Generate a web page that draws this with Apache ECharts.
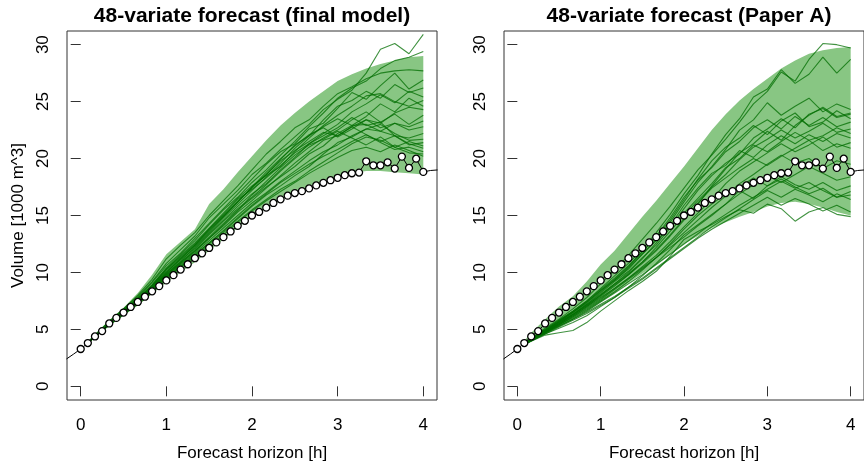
<!DOCTYPE html>
<html><head><meta charset="utf-8">
<script src="https://cdn.jsdelivr.net/npm/echarts@6/dist/echarts.min.js"></script>
<style>html,body{margin:0;padding:0;background:#fff}#c{width:864px;height:467px}</style>
</head><body><div id="c"></div>
<script>
// ---------- data ----------
const panelTitles = ['48-variate forecast (final model)', '48-variate forecast (Paper A)'];
const xTickValues = [0, 1, 2, 3, 4];
const yTickValues = [0, 5, 10, 15, 20, 25, 30];
const xAxisTitle = 'Forecast horizon [h]';
const yAxisTitle = 'Volume [1000 m^3]';

// forecast horizons (minutes) of scenario lines and bands
const horizonMin = [5,10,20,30,40,50,60,70,80,90,100,110,120,130,140,150,160,170,180,190,200,210,220,230,240];

// observed volumes (minutes)
const obsMin = [-10,-5,0,5,10,15,20,25,30,35,40,45,50,55,60,65,70,75,80,85,90,95,100,105,110,115,120,125,130,135,140,145,150,155,160,165,170,175,180,185,190,195,200,205,210,215,220,225,230,235,240,245,250];
const obsValues = [2.40,2.83,3.28,3.80,4.38,4.85,5.52,6.01,6.48,6.97,7.41,7.87,8.34,8.80,9.30,9.76,10.25,10.72,11.25,11.68,12.15,12.64,13.10,13.60,14.09,14.53,15.00,15.31,15.69,16.10,16.42,16.74,16.97,17.14,17.38,17.64,17.87,18.10,18.31,18.54,18.71,18.77,19.76,19.41,19.41,19.67,19.12,20.17,19.18,19.99,18.83,18.95,19.00];

// prediction bands
const finalLower = [3.7,4.3,5.3,6.2,7.1,8.1,9.1,10.0,10.9,11.9,12.9,13.9,14.9,15.6,16.3,17.0,17.6,18.0,18.4,18.7,18.9,18.9,18.8,18.7,18.6];
const finalUpper = [3.95,4.6,5.8,6.9,8.2,9.8,11.6,12.7,13.8,16.0,17.3,18.8,20.2,21.6,22.9,24.0,25.0,25.9,26.8,27.4,27.9,28.3,28.6,28.9,29.0];
const paperLower = [3.7,4.1,4.6,5.2,5.9,6.6,7.4,8.2,9.1,9.9,10.7,11.6,12.5,13.2,13.9,14.4,14.9,15.3,15.8,16.1,16.2,16.0,15.7,15.3,15.0];
const paperUpper = [4.0,4.7,5.9,7.0,7.9,9.2,10.7,11.9,13.4,14.9,16.3,17.8,19.3,20.9,22.5,23.9,25.1,26.1,27.0,27.9,28.6,29.2,29.5,29.7,29.8];

// scenario paths, final model
const final1  = [3.85,4.5,5.7,6.8,7.9,9.2,10.8,12.0,13.2,14.8,16.0,17.2,18.6,19.6,20.8,21.9,23.0,24.3,25.2,26.0,27.5,29.6,30.1,29.2,30.9];
const final2  = [3.8,4.45,5.6,6.6,7.7,8.9,10.4,11.6,12.8,14.2,15.5,16.6,17.9,19.0,20.3,21.5,22.8,24.0,25.3,26.2,26.8,27.9,28.6,28.9,29.4];
const final3  = [3.85,4.5,5.7,6.8,8.0,9.4,11.2,12.4,13.5,15.0,16.3,17.6,19.0,20.4,21.5,22.7,23.4,24.6,25.7,26.3,27.0,27.5,27.7,27.8,27.7];
const final4  = [3.8,4.4,5.6,6.7,7.8,9.1,10.6,11.7,13.0,14.3,15.6,16.9,18.2,19.5,20.6,21.3,22.6,23.1,24.4,25.8,25.2,26.4,27.5,26.1,26.9];
const final5  = [3.8,4.45,5.6,6.7,7.7,8.8,10.2,11.3,12.4,13.8,15.0,16.2,17.4,18.6,19.9,21.2,22.0,23.4,24.6,25.1,25.9,25.3,26.5,25.8,26.2];
const final6  = [3.8,4.4,5.5,6.5,7.6,8.7,10.0,11.1,12.1,13.4,14.6,15.8,16.9,17.8,19.0,20.1,21.3,22.2,23.0,24.1,24.8,25.6,24.9,25.9,25.4];
const final7  = [3.8,4.4,5.5,6.6,7.6,8.8,10.3,11.5,12.6,13.9,15.2,16.5,17.6,18.5,19.3,20.6,21.8,22.9,23.8,24.6,25.5,25.7,25.0,24.6,25.1];
const final8  = [3.8,4.4,5.5,6.5,7.5,8.6,9.9,10.9,11.9,13.1,14.3,15.5,16.5,17.5,18.4,19.3,20.4,21.1,22.2,22.9,23.7,24.8,24.1,25.3,24.6];
const final9  = [3.8,4.4,5.5,6.5,7.5,8.6,9.8,10.8,11.8,13.0,14.1,15.3,16.3,17.4,18.5,19.6,20.6,21.6,22.0,22.8,23.4,23.1,24.0,24.5,24.3];
const final10 = [3.8,4.4,5.6,6.6,7.7,8.9,10.3,11.4,12.5,13.8,15.1,16.4,17.3,18.3,19.4,20.5,21.3,22.0,22.7,23.6,22.9,23.2,23.9,23.0,23.8];
const final11 = [3.8,4.4,5.5,6.4,7.4,8.5,9.7,10.7,11.7,12.8,13.9,15.0,16.1,17.0,18.0,18.9,19.8,20.6,21.2,22.0,22.6,22.4,23.1,22.8,23.3];
const final12 = [3.8,4.4,5.5,6.5,7.5,8.6,9.9,11.0,12.2,13.5,14.8,16.0,17.2,18.4,19.6,20.9,22.0,22.8,23.5,22.9,23.0,22.4,22.0,21.8,22.2];
const final13 = [3.8,4.35,5.4,6.4,7.3,8.4,9.6,10.6,11.6,12.6,13.6,14.7,15.8,16.8,17.6,18.5,19.3,20.4,21.4,21.9,22.6,23.0,22.2,21.6,21.7];
const final14 = [3.8,4.4,5.5,6.5,7.5,8.7,10.0,11.2,12.4,13.7,14.9,16.2,17.5,18.6,19.8,20.7,21.5,22.3,22.0,22.8,22.1,21.5,22.0,21.2,21.4];
const final15 = [3.8,4.35,5.4,6.3,7.3,8.3,9.5,10.5,11.4,12.5,13.5,14.5,15.5,16.4,17.3,18.0,18.9,19.7,20.5,21.3,21.9,21.6,21.0,21.5,21.1];
const final16 = [3.8,4.4,5.5,6.5,7.5,8.6,9.8,10.9,12.0,13.3,14.5,15.6,16.6,17.7,18.9,20.0,21.0,21.8,22.5,23.4,24.1,23.2,22.0,21.3,20.9];
const final17 = [3.8,4.35,5.4,6.4,7.3,8.4,9.6,10.5,11.5,12.6,13.7,14.8,15.9,16.9,17.9,18.7,19.5,20.2,20.8,21.5,22.1,21.4,20.8,21.0,20.6];
const final18 = [3.8,4.4,5.5,6.5,7.4,8.5,9.7,10.8,11.9,13.0,14.2,15.4,16.8,18.0,19.2,20.3,21.2,21.7,22.4,21.8,21.2,21.9,21.0,20.5,20.4];
const final19 = [3.75,4.35,5.4,6.3,7.2,8.2,9.4,10.4,11.3,12.3,13.3,14.4,15.4,16.3,17.1,17.9,18.7,19.4,20.1,20.7,21.0,20.6,21.2,20.7,20.2];
const final20 = [3.8,4.4,5.6,6.6,7.6,8.8,10.1,11.2,12.3,13.6,14.9,16.2,17.5,18.8,20.0,21.1,22.1,22.7,21.9,22.6,23.4,22.7,23.1,22.5,22.8];

// scenario paths, Paper A
const paper1  = [3.8,4.2,5.1,5.9,6.8,7.8,9.0,10.2,11.5,12.9,14.3,15.8,17.4,19.0,20.3,21.7,23.2,24.8,25.9,27.6,26.8,28.7,30.1,30.0,29.7];
const paper2  = [3.75,4.15,5.0,5.8,6.6,7.5,8.6,9.7,10.8,12.0,13.5,15.1,16.9,18.5,20.4,22.1,23.5,25.4,26.1,27.8,26.6,27.4,28.9,27.5,28.7];
const paper3  = [3.75,4.1,4.9,5.7,6.5,7.4,8.4,9.3,10.3,11.6,12.9,14.4,16.2,17.9,19.3,20.8,22.5,23.4,24.9,23.8,24.6,25.3,24.1,24.8,24.3];
const paper4  = [3.7,4.1,4.8,5.5,6.3,7.2,8.2,9.2,10.1,11.3,12.4,13.9,15.6,17.2,18.5,19.6,20.4,21.8,22.6,23.5,22.7,23.9,24.4,23.6,23.9];
const paper5  = [3.75,4.15,5.0,5.8,6.6,7.5,8.5,9.5,10.6,11.8,13.1,14.6,16.4,18.2,19.8,21.0,21.8,22.9,22.1,23.3,24.0,22.8,23.2,24.2,23.5];
const paper6  = [3.7,4.1,4.9,5.6,6.4,7.2,8.1,9.0,9.9,10.9,12.0,13.3,14.7,16.0,17.6,19.1,20.5,21.3,22.4,21.6,22.9,23.8,24.5,23.7,24.0];
const paper7  = [3.7,4.05,4.8,5.5,6.2,7.0,7.9,8.8,9.8,10.9,12.2,13.6,15.0,16.3,17.5,18.6,19.9,21.0,21.7,22.5,21.8,22.4,23.1,22.3,22.6];
const paper8  = [3.75,4.1,4.9,5.7,6.5,7.3,8.3,9.3,10.4,11.6,12.8,14.0,15.2,16.5,17.8,19.2,20.0,21.2,20.6,21.5,22.3,21.6,22.0,22.7,22.2];
const paper9  = [3.7,4.05,4.8,5.5,6.2,7.0,7.8,8.6,9.5,10.5,11.5,12.7,14.0,15.2,16.4,17.8,18.9,19.7,20.5,21.3,20.6,21.2,21.9,21.0,21.4];
const paper10 = [3.7,4.1,4.85,5.6,6.3,7.1,8.0,8.9,9.8,10.8,11.9,13.2,14.6,16.1,17.4,18.3,19.2,20.0,19.4,20.2,20.9,21.6,20.7,21.3,20.9];
const paper11 = [3.7,4.0,4.7,5.4,6.0,6.7,7.5,8.3,9.2,10.2,11.3,12.4,13.5,14.6,15.7,16.7,17.8,18.6,19.5,20.3,19.6,20.0,19.1,19.8,19.5];
const paper12 = [3.7,4.05,4.75,5.4,6.1,6.9,7.7,8.6,9.5,10.4,11.3,12.2,13.1,14.1,15.0,16.0,16.9,17.7,18.5,17.9,18.6,19.3,18.7,18.1,18.4];
const paper13 = [3.7,4.0,4.7,5.3,5.9,6.6,7.4,8.2,9.0,9.8,10.7,11.6,12.5,13.4,14.3,15.1,15.9,16.6,17.3,18.0,17.4,17.9,17.2,16.6,17.1];
const paper14 = [3.7,4.0,4.65,5.3,5.9,6.5,7.2,7.9,8.7,9.5,10.4,11.3,12.2,13.1,14.0,14.8,15.6,16.4,17.2,16.6,17.3,16.8,16.2,16.9,16.4];
const paper15 = [3.7,4.0,4.6,5.2,5.8,6.4,7.1,7.8,8.6,9.4,10.3,11.2,12.1,13.0,13.8,14.5,15.2,15.9,16.6,15.9,16.5,16.0,15.4,15.9,15.3];
const paper16 = [3.65,3.95,4.5,4.7,4.9,5.6,6.6,7.5,8.4,9.2,10.1,11.4,12.9,13.6,14.2,14.9,15.5,15.2,16.0,15.6,14.5,15.3,15.7,15.1,14.9];
const paper17 = [3.7,4.0,4.6,5.1,5.6,6.2,7.0,7.8,8.7,9.7,10.8,12.0,13.3,14.2,15.1,16.0,17.2,16.5,17.6,18.4,17.7,17.3,17.9,17.2,17.6];
const paper18 = [3.75,4.1,4.9,5.7,6.5,7.4,8.4,9.4,10.5,11.8,13.2,14.8,16.6,18.1,19.2,20.6,21.5,22.7,23.4,22.6,23.7,22.9,23.6,22.8,23.2];
const paper19 = [3.7,4.1,4.8,5.6,6.3,7.1,8.0,9.0,10.0,11.2,12.6,14.1,15.9,17.4,18.7,19.4,20.7,20.1,21.2,22.0,21.3,22.1,21.5,22.2,21.8];
const paper20 = [3.7,4.05,4.75,5.4,6.1,6.8,7.6,8.5,9.4,10.3,11.3,12.5,13.8,15.0,16.0,16.9,17.5,18.3,17.6,18.2,17.5,16.9,17.4,16.6,16.8];

const finalPaths = [final1,final2,final3,final4,final5,final6,final7,final8,final9,final10,final11,final12,final13,final14,final15,final16,final17,final18,final19,final20];
const paperPaths = [paper1,paper2,paper3,paper4,paper5,paper6,paper7,paper8,paper9,paper10,paper11,paper12,paper13,paper14,paper15,paper16,paper17,paper18,paper19,paper20];

// ---------- chart ----------
const FONT = '"Liberation Sans", Arial, Helvetica, sans-serif';
const BAND = '#88c683';
const LINE = 'rgba(0,110,0,0.75)';
const chart = echarts.init(document.getElementById('c'));

const grids = [
  {left: 67, top: 31, width: 370, height: 372},
  {left: 504, top: 31, width: 370, height: 372}
].map(g => Object.assign(g, {show: true, borderColor: '#333', borderWidth: 1, backgroundColor: 'transparent'}));

function xAxisFor(gi) {
  return {
    type: 'value', gridIndex: gi, min: -0.16, max: 4.16,
    splitLine: {show: false}, axisLine: {show: false},
    axisTick: {show: true, inside: false, length: 10, customValues: xTickValues, lineStyle: {color: '#333'}},
    axisLabel: {customValues: xTickValues, margin: 17, fontSize: 17, color: '#000', fontFamily: FONT},
    name: xAxisTitle, nameLocation: 'middle', nameGap: 45,
    nameTextStyle: {fontSize: 17, color: '#000', fontFamily: FONT}
  };
}
function yAxisFor(gi) {
  const ax = {
    type: 'value', gridIndex: gi, min: -1.2, max: 31.2,
    splitLine: {show: false}, axisLine: {show: false},
    axisTick: {show: true, inside: false, length: 10, customValues: yTickValues, lineStyle: {color: '#333'}},
    axisLabel: {customValues: yTickValues, rotate: 90, margin: 15, fontSize: 17, color: '#000', fontFamily: FONT}
  };
  if (gi === 0) {
    ax.name = yAxisTitle; ax.nameLocation = 'middle'; ax.nameGap = 40;
    ax.nameTextStyle = {fontSize: 17, color: '#000', fontFamily: FONT};
  }
  return ax;
}

function bandSeries(gi, lo, hi) {
  return {
    type: 'custom', xAxisIndex: gi, yAxisIndex: gi, z: 1, silent: true,
    data: horizonMin.map((m, i) => [m / 60, lo[i], hi[i]]),
    encode: {x: 0, y: [1, 2]},
    renderItem: function (params, api) {
      if (params.dataIndex !== 0) return null;
      const pts = [];
      for (let i = 0; i < horizonMin.length; i++) pts.push(api.coord([horizonMin[i] / 60, hi[i]]));
      for (let i = horizonMin.length - 1; i >= 0; i--) pts.push(api.coord([horizonMin[i] / 60, lo[i]]));
      return {type: 'polygon', shape: {points: pts}, style: {fill: BAND}};
    }
  };
}
function pathSeries(gi, arr) {
  return {
    type: 'line', xAxisIndex: gi, yAxisIndex: gi, z: 2, silent: true,
    showSymbol: false, symbol: 'none', clip: true,
    data: horizonMin.map((m, i) => [m / 60, arr[i]]),
    lineStyle: {color: LINE, width: 1.1}
  };
}
function obsSeries(gi) {
  return [{
    type: 'line', xAxisIndex: gi, yAxisIndex: gi, z: 3, silent: true,
    showSymbol: false, symbol: 'none', clip: true,
    data: obsMin.map((m, i) => [m / 60, obsValues[i]]),
    lineStyle: {color: '#000', width: 1}
  }, {
    type: 'scatter', xAxisIndex: gi, yAxisIndex: gi, z: 4, silent: true,
    symbol: 'circle', symbolSize: 7,
    data: obsMin.map((m, i) => [m / 60, obsValues[i]]).filter(d => d[0] >= 0 && d[0] <= 4),
    itemStyle: {color: '#fff', borderColor: '#000', borderWidth: 1.3, opacity: 1}
  }];
}

const series = [
  bandSeries(0, finalLower, finalUpper),
  ...finalPaths.map(p => pathSeries(0, p)),
  ...obsSeries(0),
  bandSeries(1, paperLower, paperUpper),
  ...paperPaths.map(p => pathSeries(1, p)),
  ...obsSeries(1)
];

chart.setOption({
  animation: false,
  backgroundColor: '#fff',
  grid: grids,
  xAxis: [xAxisFor(0), xAxisFor(1)],
  yAxis: [yAxisFor(0), yAxisFor(1)],
  graphic: [
    {type: 'text', x: 252, y: 16, silent: true, style: {text: panelTitles[0], align: 'center', verticalAlign: 'middle', font: 'bold 21px ' + FONT, fill: '#000'}},
    {type: 'text', x: 689, y: 16, silent: true, style: {text: panelTitles[1], align: 'center', verticalAlign: 'middle', font: 'bold 21px ' + FONT, fill: '#000'}}
  ],
  series: series
});
</script>
</body></html>
